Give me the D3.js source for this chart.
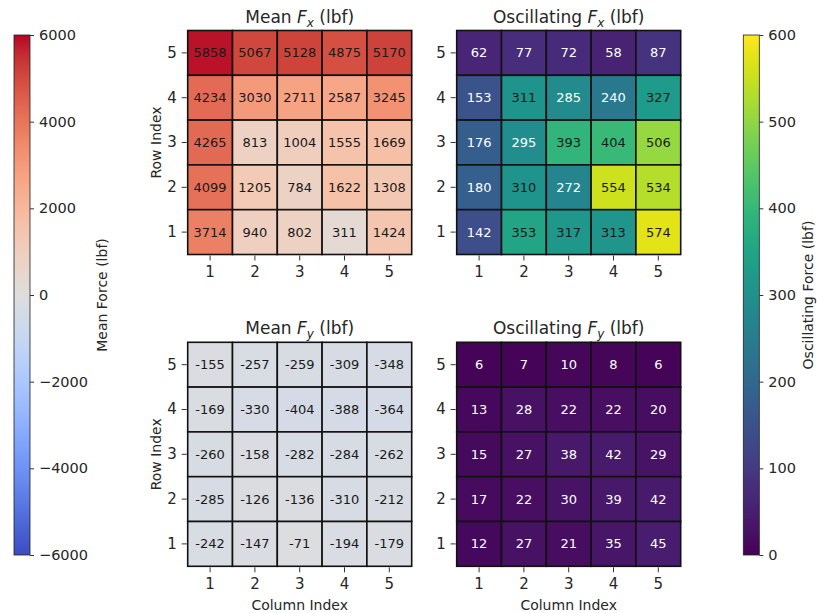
<!DOCTYPE html>
<html><head><meta charset="utf-8">
<script src="https://cdn.jsdelivr.net/npm/d3@7"></script>
<style>
body{margin:0;background:#fff;}
text{font-family:"DejaVu Sans",sans-serif;fill:#262626;}
</style></head>
<body><svg id="c" width="817" height="613"></svg>
<script>
// ---- data ----
const colLabels = [1,2,3,4,5];
const rowLabels = [5,4,3,2,1]; // top to bottom
const meanFx = [
 [5858,5067,5128,4875,5170],
 [4234,3030,2711,2587,3245],
 [4265,813,1004,1555,1669],
 [4099,1205,784,1622,1308],
 [3714,940,802,311,1424]];
const oscFx = [
 [62,77,72,58,87],
 [153,311,285,240,327],
 [176,295,393,404,506],
 [180,310,272,554,534],
 [142,353,317,313,574]];
const meanFy = [
 [-155,-257,-259,-309,-348],
 [-169,-330,-404,-388,-364],
 [-260,-158,-282,-284,-262],
 [-285,-126,-136,-310,-212],
 [-242,-147,-71,-194,-179]];
const oscFy = [
 [6,7,10,8,6],
 [13,28,22,22,20],
 [15,27,38,42,29],
 [17,22,30,39,42],
 [12,27,21,35,45]];
const meanTicks = [-6000,-4000,-2000,0,2000,4000,6000];
const oscTicks = [0,100,200,300,400,500,600];

// coolwarm (Moreland) table
const cw = [[59,76,192],[68,90,204],[77,104,215],[87,117,225],[98,130,234],[108,142,241],[119,154,247],[130,165,251],[141,176,254],[152,185,255],[163,194,255],[174,201,253],[184,208,249],[194,213,244],[204,217,238],[213,219,230],[221,221,221],[229,216,209],[236,211,197],[241,204,185],[245,196,173],[247,187,160],[247,177,148],[247,166,135],[244,154,123],[241,141,111],[236,127,99],[229,112,88],[222,96,77],[213,80,66],[203,62,56],[192,40,47],[180,4,38]];
const coolwarm = d3.piecewise(d3.interpolateRgb, cw.map(c=>d3.rgb(c[0],c[1],c[2])));

const meanNorm = d3.scaleLinear().domain([-6000,6000]).range([0,1]).clamp(true);
const oscNorm = d3.scaleLinear().domain([0,600]).range([0,1]).clamp(true);
const meanColor = v => coolwarm(meanNorm(v));
const oscColor = v => d3.interpolateViridis(oscNorm(v));

const svg = d3.select("#c");
const cell = 44.8, gsize = cell*5;

function title(g, pre, sub, cx, y){
  const t = g.append("text").attr("x",cx).attr("y",y).attr("text-anchor","middle").style("font-size","17px");
  t.append("tspan").text(pre);
  t.append("tspan").style("font-style","italic").text("F");
  t.append("tspan").style("font-style","italic").style("font-size","12px").attr("dy",4).text(sub);
  t.append("tspan").attr("dy",-4).text(" (lbf)");
}

function heatmap(x0,y0,data,colorFn,textFn,pre,sub,showRowLabel,showColLabel){
  const x = d3.scaleBand().domain(colLabels).range([x0,x0+gsize]);
  const y = d3.scaleBand().domain(rowLabels).range([y0,y0+gsize]);
  const g = svg.append("g");
  const cells = [];
  data.forEach((row,i)=>row.forEach((v,j)=>cells.push({r:rowLabels[i],c:colLabels[j],v})));
  g.selectAll("rect").data(cells).join("rect")
    .attr("x",d=>x(d.c)).attr("y",d=>y(d.r))
    .attr("width",x.bandwidth()).attr("height",y.bandwidth())
    .attr("fill",d=>colorFn(d.v)).attr("stroke","#111").attr("stroke-width",1.6);
  g.selectAll("text.v").data(cells).join("text").attr("class","v")
    .attr("x",d=>x(d.c)+x.bandwidth()/2).attr("y",d=>y(d.r)+y.bandwidth()/2)
    .attr("text-anchor","middle").attr("dy","0.35em")
    .style("font-size","13px").style("fill",d=>textFn(d.v)).text(d=>d.v);
  const ax = g.append("g").attr("transform",`translate(0,${y0+gsize+1})`)
    .call(d3.axisBottom(x).tickSize(5).tickPadding(6));
  const ay = g.append("g").attr("transform",`translate(${x0-1},0)`)
    .call(d3.axisLeft(y).tickSize(5).tickPadding(5));
  [ax,ay].forEach(a=>{a.select(".domain").remove();
    a.selectAll("line").attr("stroke","#333");
    a.selectAll("text").style("font-size","15px").style("font-family","DejaVu Sans").attr("fill","#262626");});
  title(g,pre,sub,x0+gsize/2,y0-8);
  if(showRowLabel) g.append("text").attr("transform",`translate(${x0-31.2},${y0+gsize/2}) rotate(-90)`)
      .attr("text-anchor","middle").attr("dy","0.35em").style("font-size","14px").text("Row Index");
  if(showColLabel) g.append("text").attr("x",x0+gsize/2).attr("y",y0+gsize+44)
      .attr("text-anchor","middle").style("font-size","14px").text("Column Index");
}

const dark = "#1a1a1a";
heatmap(187.7,30.5,meanFx,meanColor,()=>dark,"Mean ","x",true,false);
heatmap(456.7,30.5,oscFx,oscColor,v=>oscNorm(v)<0.5?"#fff":dark,"Oscillating ","x",false,false);
heatmap(187.7,342.3,meanFy,meanColor,()=>dark,"Mean ","y",true,true);
heatmap(456.7,342.3,oscFy,oscColor,v=>oscNorm(v)<0.5?"#fff":dark,"Oscillating ","y",false,true);

// colorbars
const defs = svg.append("defs");
function colorbar(x0,domain,ticks,interp,id,label,labelX){
  const y = d3.scaleLinear().domain(domain).range([555,35]);
  const grad = defs.append("linearGradient").attr("id",id).attr("x1",0).attr("y1",1).attr("x2",0).attr("y2",0);
  d3.range(0,1.0001,0.02).forEach(t=>grad.append("stop").attr("offset",t).attr("stop-color",interp(t)));
  svg.append("rect").attr("x",x0).attr("y",35).attr("width",16).attr("height",520)
    .attr("fill",`url(#${id})`).attr("stroke","#222").attr("stroke-width",0.8);
  const a = svg.append("g").attr("transform",`translate(${x0+16},0)`)
    .call(d3.axisRight(y).tickValues(ticks).tickSize(4).tickPadding(5).tickFormat(d=>d<0?"\u2212"+Math.abs(d):d));
  a.select(".domain").remove();
  a.selectAll("line").attr("stroke","#333");
  a.selectAll("text").style("font-size","14.5px").style("font-family","DejaVu Sans").attr("fill","#262626");
  svg.append("text").attr("transform",`translate(${labelX},295) rotate(-90)`).attr("text-anchor","middle")
    .attr("dy","0.35em").style("font-size","14px").text(label);
}
colorbar(14,[-6000,6000],meanTicks,coolwarm,"gm","Mean Force (lbf)",102);
colorbar(743.3,[0,600],oscTicks,d3.interpolateViridis,"go","Oscillating Force (lbf)",808);
</script></body></html>
